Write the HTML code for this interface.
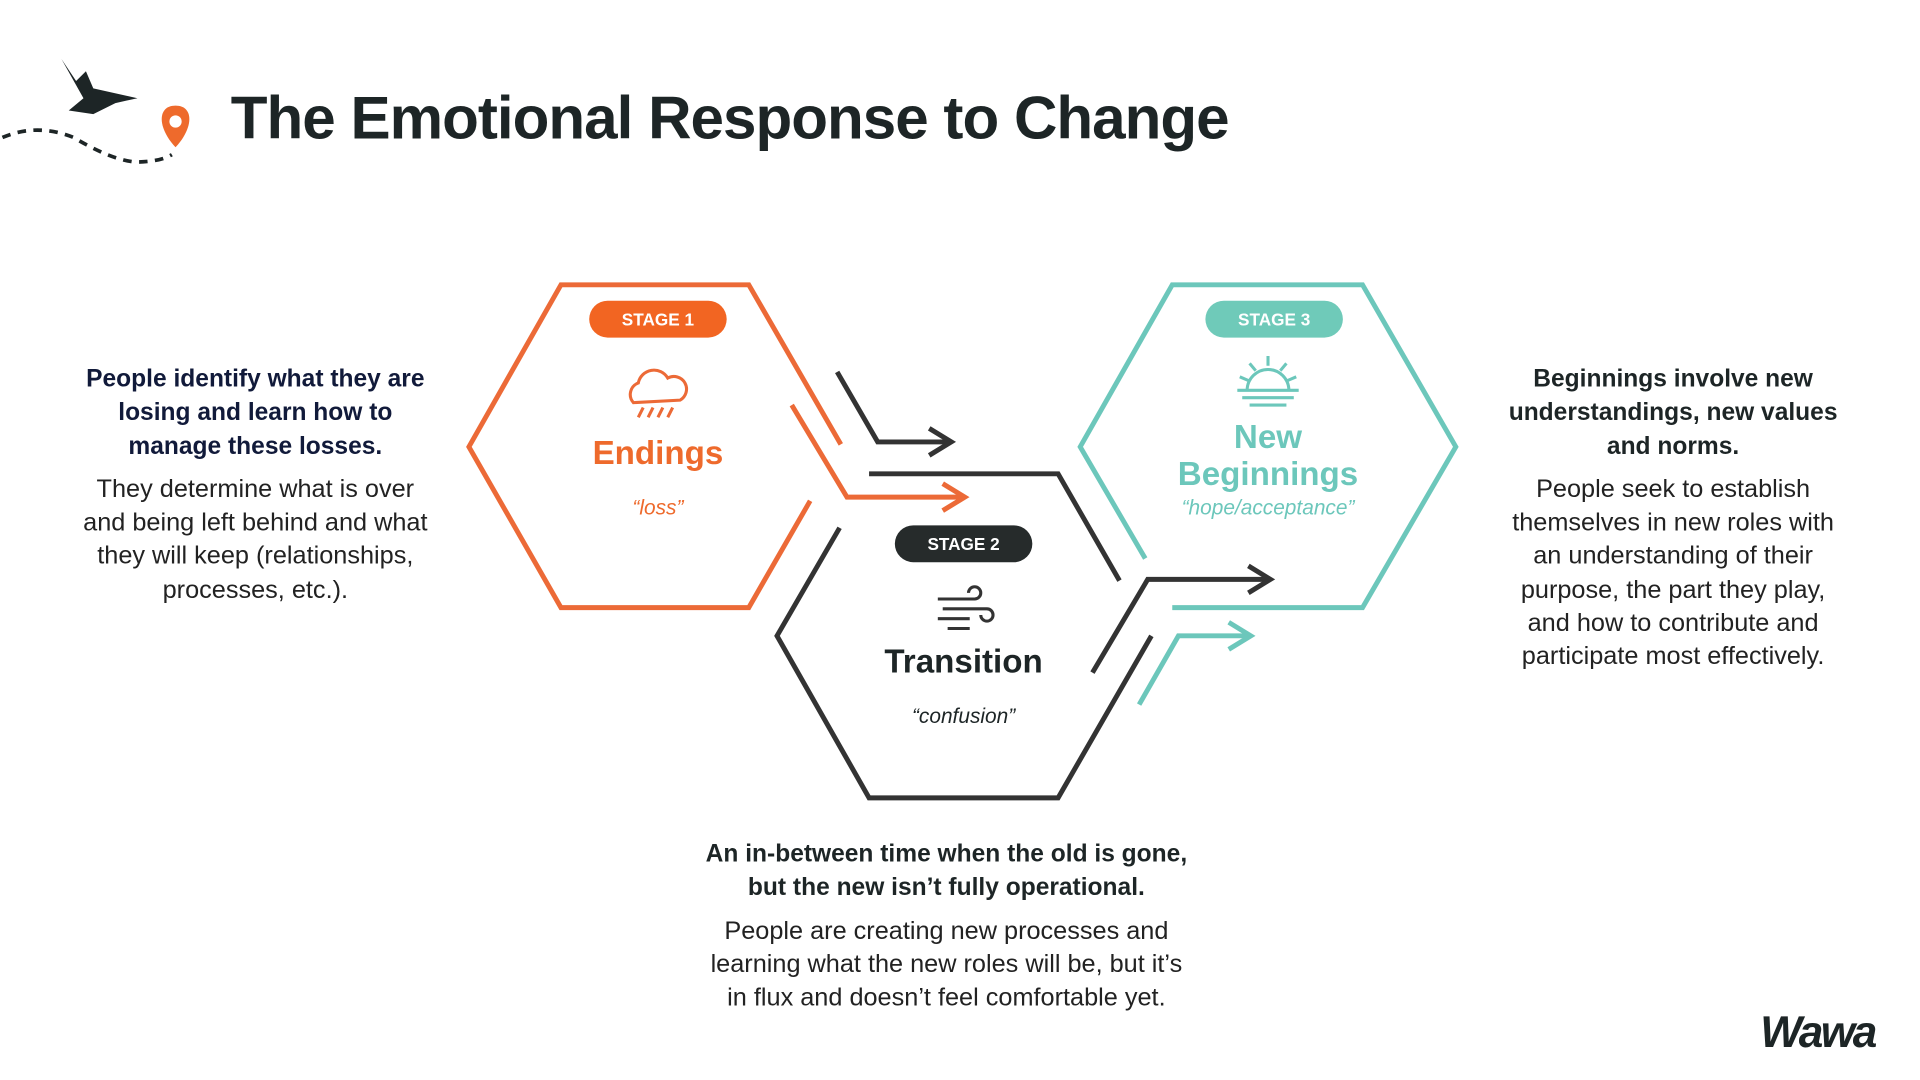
<!DOCTYPE html>
<html><head><meta charset="utf-8"><style>
html,body{margin:0;padding:0;background:#fff;width:1920px;height:1080px;overflow:hidden}
#s{position:absolute;left:0;top:0;width:1564px;height:880px;transform:scale(1.2275);transform-origin:0 0;font-family:"Liberation Sans",sans-serif;color:#1d2526}
.t{position:absolute;text-align:center;white-space:nowrap}
.b{font-weight:bold}
.n{margin-top:7px;color:#222;font-size:20.6px}
.pill{position:absolute;width:112px;height:30px;border-radius:15px;color:#fff;font-size:14px;font-weight:bold;line-height:30px;text-align:center}
</style></head><body><div id="s">
<svg width="1564" height="880" style="position:absolute;left:0;top:0" fill="none" stroke-width="4" stroke-linejoin="miter">
<path d="M2,112 Q30,100 60,112 Q90,130 110,132 Q130,132 140,126" stroke="#1d2526" stroke-width="3" stroke-dasharray="7,6"/>
<path d="M50,48 L62,66 L70,58 L76,72 L112,80 L94,84 L76,93 L56,90 L68,80 Z" fill="#1d2526" stroke="none"/>
<path d="M143,120 C128,104 128,86 143,86 C158,86 158,104 143,120 Z" fill="#ee6a2c" stroke="none"/>
<circle cx="143" cy="99" r="5" fill="#fff" stroke="none"/>
<g stroke="#ec6a37"><polyline points="685,362 610,232 457,232 382,364 457,495 610,495 660,408"/>
<polyline points="645,330 690,405 785,405"/><polyline points="768,394 786,405 768,416"/></g>
<g stroke="#333"><polyline points="912,473 862,386 708,386"/>
<polyline points="684,430 633,518 708,650 862,650 938,518"/>
<polyline points="682,303 715,360 774,360"/><polyline points="757,349 775,360 757,371"/>
<polyline points="890,548 935,472 1034,472"/><polyline points="1017,461 1035,472 1017,483"/></g>
<g stroke="#6cc7bb"><polyline points="933,455 880,364 955,232 1110,232 1186,364 1110,495 955,495"/>
<polyline points="928,574 960,518 1018,518"/><polyline points="1001,507 1019,518 1001,529"/></g>
<g stroke="#ec6a37" stroke-width="2.5"><path d="M516,328 a10,10 0 0 1 4,-16 a13,13 0 0 1 24,-4 a10,10 0 0 1 10,18 Z"/><path d="M524,332 l-4,8 M532,332 l-4,8 M540,332 l-4,8 M548,332 l-4,8"/></g>
<g stroke="#6cc7bb" stroke-width="2.5"><path d="M1016,318 a17,17 0 0 1 34,0"/><path d="M1008,318 h50 M1012,324 h42 M1018,330 h30 M1033,290 v8 M1018,296 l5,6 M1048,296 l-5,6 M1010,307 l7,3 M1056,307 l-7,3"/></g>
<g stroke="#333" stroke-width="2.5"><path d="M764,488 h30 a5,5 0 1 0 -5,-5 M768,496 h36 a5,5 0 1 1 -5,5 M764,504 h26 M772,512 h18"/></g>
</svg>
<div class="t b" style="left:188px;top:69px;font-size:49px;letter-spacing:-0.8px">The Emotional Response to Change</div>
<div class="pill" style="left:480px;top:245px;background:#f26522">STAGE 1</div>
<div class="pill" style="left:729px;top:428px;background:#262b2b">STAGE 2</div>
<div class="pill" style="left:982px;top:245px;background:#6fcab9">STAGE 3</div>
<div class="t b" style="left:436px;width:200px;top:354px;font-size:27px;color:#ee6a2c">Endings</div>
<div class="t" style="left:436px;width:200px;top:404px;font-size:17px;font-style:italic;color:#ee6a2c">“loss”</div>
<div class="t b" style="left:685px;width:200px;top:524px;font-size:27px;color:#1d2526">Transition</div>
<div class="t" style="left:685px;width:200px;top:574px;font-size:17px;font-style:italic">“confusion”</div>
<div class="t b" style="left:933px;width:200px;top:341px;font-size:27px;line-height:30px;color:#6cc7bb">New<br>Beginnings</div>
<div class="t" style="left:933px;width:200px;top:404px;font-size:17px;font-style:italic;color:#6cc7bb">“hope/acceptance”</div>
<div class="t" style="left:40px;width:336px;top:296px;font-size:20px;line-height:27.3px"><span class="b" style="color:#111a3a">People identify what they are<br>losing and learn how to<br>manage these losses.</span><div class="n">They determine what is over<br>and being left behind and what<br>they will keep (relationships,<br>processes, etc.).</div></div>
<div class="t" style="left:1195px;width:336px;top:296px;font-size:20px;line-height:27.3px"><span class="b">Beginnings involve new<br>understandings, new values<br>and norms.</span><div class="n">People seek to establish<br>themselves in new roles with<br>an understanding of their<br>purpose, the part they play,<br>and how to contribute and<br>participate most effectively.</div></div>
<div class="t" style="left:571px;width:400px;top:683px;font-size:20px;line-height:27.3px"><span class="b">An in-between time when the old is gone,<br>but the new isn’t fully operational.</span><div class="n">People are creating new processes and<br>learning what the new roles will be, but it’s<br>in flux and doesn’t feel comfortable yet.</div></div>
<div class="t b" style="left:1434px;top:820px;font-size:36px;font-style:italic;letter-spacing:-2px">Wawa</div>
</div></body></html>
